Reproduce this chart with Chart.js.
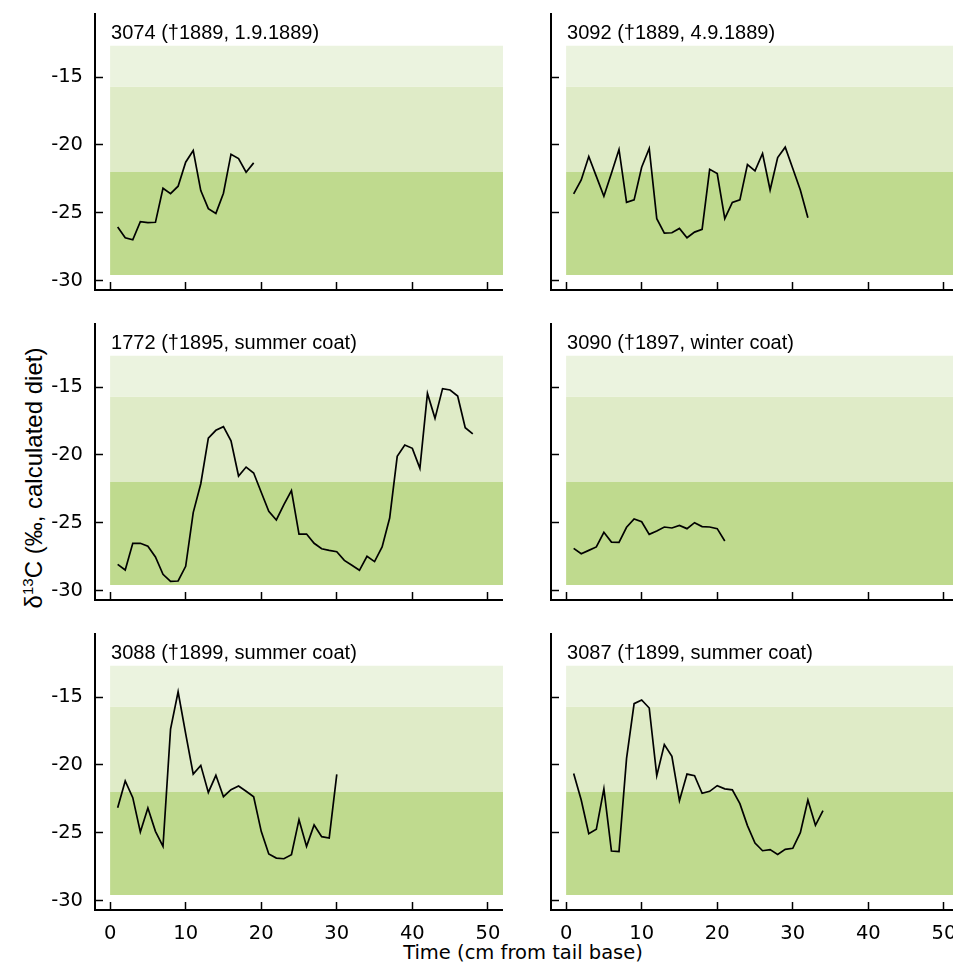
<!DOCTYPE html>
<html>
<head>
<meta charset="utf-8">
<script src="https://cdn.jsdelivr.net/npm/chart.js@4"></script>
<style>
  html, body { margin: 0; padding: 0; background: #fff; overflow: hidden; }
  #page { position: relative; width: 953px; height: 965px; overflow: hidden; }
  canvas { position: absolute; }
  #ytitle {
    position: absolute; left: 33px; top: 478px;
    transform: translate(-50%, -50%) rotate(-90deg);
    font: 24px "Liberation Sans", Arial, sans-serif; white-space: nowrap; color: #000;
  }
  #ytitle sup { font-size: 15px; }
  #xtitle {
    position: absolute; left: 523px; top: 943px; transform: translateX(-50%);
    font: 19.5px "DejaVu Sans", Verdana, sans-serif; line-height: 1; white-space: nowrap; color: #000;
  }
</style>
</head>
<body>
<div id="page">
  <div id="ytitle">&delta;<sup>13</sup>C (&permil;, calculated diet)</div>
  <div id="xtitle">Time (cm from tail base)</div>
</div>
<script>
// sample positions along the hair (cm from tail base)
const cm = [1, 2, 3, 4, 5, 6, 7, 8, 9, 10, 11, 12, 13, 14, 15, 16, 17, 18, 19, 20, 21, 22, 23, 24,
            25, 26, 27, 28, 29, 30, 31, 32, 33, 34, 35, 36, 37, 38, 39, 40, 41, 42, 43, 44, 45, 46, 47, 48];

const s3074 = [-26.06, -26.85, -27.0, -25.67, -25.74, -25.71, -23.2, -23.6, -23.05, -21.28, -20.42,
               -23.37, -24.7, -25.05, -23.57, -20.69, -21.01, -22.02, -21.33];
const s3092 = [-23.62, -22.59, -20.86, -22.32, -23.79, -22.09, -20.34, -24.24, -24.06, -21.65, -20.27,
               -25.44, -26.5, -26.48, -26.16, -26.85, -26.43, -26.23, -21.8, -22.12, -25.44, -24.24,
               -24.06, -21.45, -21.92, -20.64, -23.33, -20.94, -20.17, -21.75, -23.33, -25.37];
const s1772 = [-28.07, -28.49, -26.52, -26.52, -26.74, -27.53, -28.81, -29.32, -29.3, -28.22, -24.26,
               -22.13, -18.76, -18.19, -17.92, -18.96, -21.56, -20.9, -21.34, -22.76, -24.16, -24.8,
               -23.67, -22.64, -25.84, -25.84, -26.52, -26.92, -27.04, -27.14, -27.78, -28.14, -28.51,
               -27.48, -27.87, -26.79, -24.66, -20.11, -19.28, -19.52, -21.0, -15.47, -17.31, -15.12,
               -15.22, -15.66, -18.0, -18.46];
const s3090 = [-26.89, -27.29, -27.04, -26.79, -25.71, -26.43, -26.45, -25.34, -24.73, -24.93, -25.86,
               -25.61, -25.32, -25.39, -25.2, -25.44, -25.0, -25.29, -25.32, -25.44, -26.35];
const s3088 = [-23.16, -21.19, -22.42, -24.95, -23.18, -24.9, -26.01, -17.36, -14.61, -17.7, -20.68,
               -20.04, -22.03, -20.77, -22.35, -21.83, -21.56, -21.95, -22.35, -24.9, -26.57, -26.87,
               -26.92, -26.62, -24.04, -26.01, -24.43, -25.29, -25.39, -20.7];
const s3087 = [-20.63, -22.59, -25.07, -24.75, -21.77, -26.35, -26.4, -19.52, -15.49, -15.22, -15.81,
               -20.8, -18.51, -19.37, -22.64, -20.68, -20.8, -22.1, -21.95, -21.53, -21.77, -21.84,
               -22.86, -24.48, -25.76, -26.33, -26.25, -26.6, -26.23, -26.15, -25.0, -22.59, -24.46, -23.38];

const titles = ['3074 (\u20201889, 1.9.1889)', '3092 (\u20201889, 4.9.1889)',
                '1772 (\u20201895, summer coat)', '3090 (\u20201897, winter coat)',
                '3088 (\u20201899, summer coat)', '3087 (\u20201899, summer coat)'];
const series = [s3074, s3092, s1772, s3090, s3088, s3087];

// background diet bands (upper edges down to the last lower edge)
const bandEdges = [-12.7, -15.7, -22.0, -29.6];
const bandColors = ['#ebf3df', '#dfebc7', '#bfda8e'];
const bandX = [0, 52];

const xTicks = [0, 10, 20, 30, 40, 50];
const yTicks = [-30, -25, -20, -15];

const rowTops = [13, 323, 633];

const panelTitle = {
    id: 'panelTitle',
    afterDraw(chart, args, opts) {
        const ctx = chart.ctx;
        const x = chart.scales.x.getPixelForValue(0);
        ctx.save();
        ctx.font = '20px "Liberation Sans", Arial, sans-serif';
        ctx.fillStyle = '#000';
        ctx.textAlign = 'left';
        ctx.textBaseline = 'alphabetic';
        ctx.fillText(opts.text, x + 1, chart.chartArea.top + 26);
        ctx.restore();
    }
};

function noPadding(s) {
    s.paddingTop = 0;
    s.paddingBottom = 0;
    s.paddingLeft = 0;
    s.paddingRight = 0;
}

function makePanel(i) {
    const col = i % 2, row = Math.floor(i / 2);
    const bottomRow = row === 2;
    const canvas = document.createElement('canvas');
    canvas.width = 503;
    canvas.height = bottomRow ? 332 : 281;
    canvas.style.left = (col ? 456 : 0) + 'px';
    canvas.style.top = rowTops[row] + 'px';
    document.getElementById('page').appendChild(canvas);

    const ys = series[i];
    const datasets = [{
        data: ys.map((v, k) => ({ x: cm[k], y: v })),
        borderColor: '#000',
        borderWidth: 1.7,
        pointRadius: 0,
        fill: false,
        tension: 0
    }];
    bandEdges.forEach((e, k) => {
        datasets.push({
            data: bandX.map(x => ({ x: x, y: e })),
            borderWidth: 0,
            borderColor: 'rgba(0,0,0,0)',
            pointRadius: 0,
            backgroundColor: bandColors[k] || 'rgba(0,0,0,0)',
            fill: k < bandColors.length ? '+1' : false
        });
    });

    new Chart(canvas, {
        type: 'line',
        data: { datasets: datasets },
        options: {
            responsive: false,
            animation: false,
            devicePixelRatio: 1,
            layout: { padding: 0 },
            plugins: {
                legend: { display: false },
                tooltip: { enabled: false },
                panelTitle: { text: titles[i] }
            },
            scales: {
                x: {
                    type: 'linear',
                    min: -2,
                    max: 52,
                    afterBuildTicks: s => { s.ticks = xTicks.map(v => ({ value: v })); },
                    afterFit: s => { s.height = bottomRow ? 55 : 4; noPadding(s); },
                    border: { display: true, color: '#000', width: 2 },
                    grid: { drawOnChartArea: false, tickLength: -8, tickColor: '#000', tickWidth: 1.5 },
                    ticks: {
                        display: bottomRow,
                        padding: 20,
                        color: '#000',
                        maxRotation: 0,
                        font: { family: '"DejaVu Sans", Verdana, sans-serif', size: 19.5 }
                    }
                },
                y: {
                    type: 'linear',
                    min: -30.7,
                    max: -10.28,
                    afterBuildTicks: s => { s.ticks = yTicks.map(v => ({ value: v })); },
                    afterFit: s => { s.width = 95; noPadding(s); },
                    border: { display: true, color: '#000', width: 2 },
                    grid: { drawOnChartArea: false, tickLength: -8, tickColor: '#000', tickWidth: 1.5 },
                    ticks: {
                        display: col === 0,
                        padding: 20,
                        color: '#000',
                        font: { family: '"DejaVu Sans", Verdana, sans-serif', size: 19.5 }
                    }
                }
            }
        },
        plugins: [panelTitle]
    });
}

for (let i = 0; i < 6; i++) makePanel(i);
</script>
</body>
</html>
